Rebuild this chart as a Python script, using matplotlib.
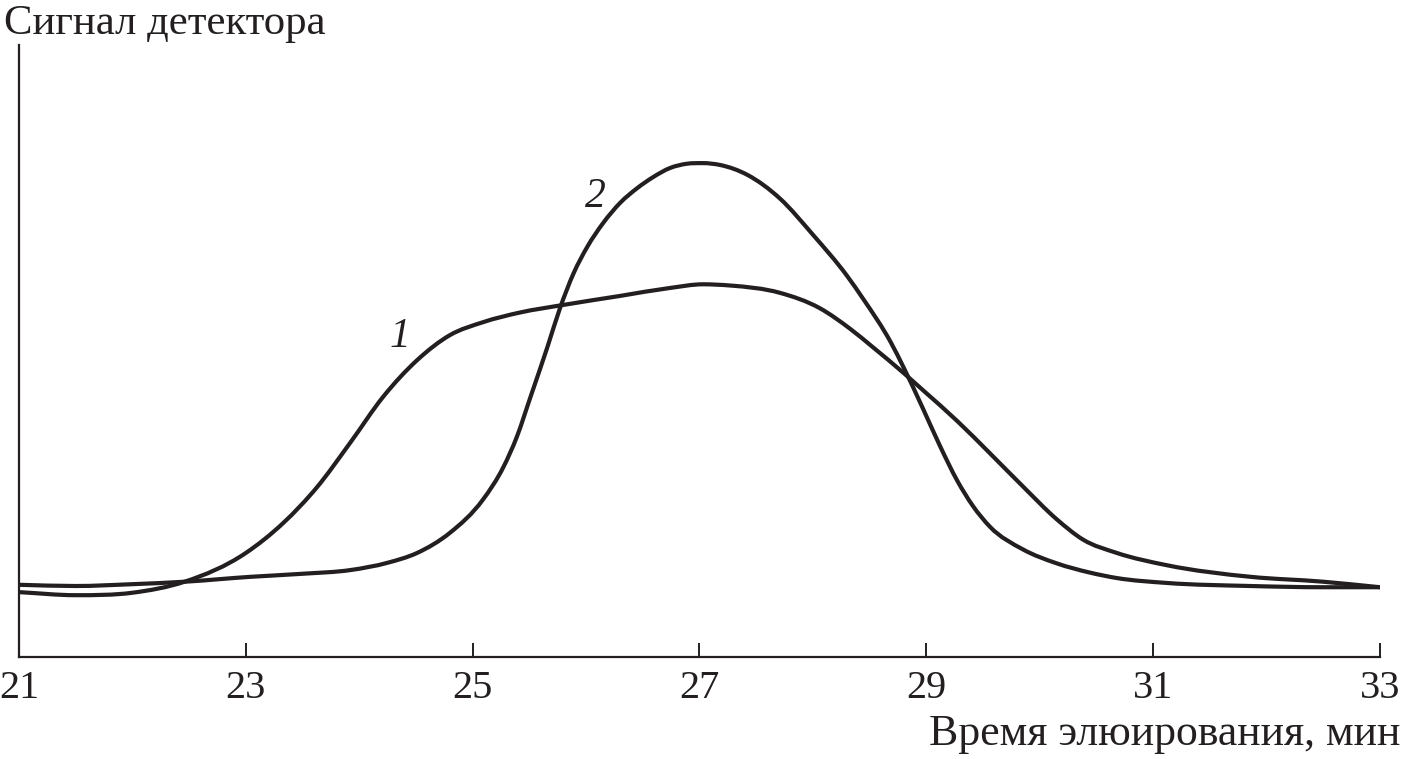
import matplotlib
matplotlib.use("Agg")
import matplotlib.pyplot as plt
from matplotlib.path import Path
from matplotlib.patches import PathPatch

# Curve 1 (broad peak)
t1 = [21.0, 21.5, 22.0, 22.46, 23.0, 23.33, 23.63, 23.92, 24.21, 24.51, 24.8, 25.09,
      25.42, 25.79, 26.30, 26.74, 27.03, 27.27, 27.71, 28.06, 28.33, 28.53, 28.80,
      28.97, 29.27, 29.56, 29.85, 30.15, 30.38, 30.68, 31.12, 31.86, 32.5, 33.0]
s1 = [10.6, 10.1, 10.5, 12.3, 17.0, 21.9, 27.8, 35.0, 42.5, 48.5, 52.6, 54.7,
      56.3, 57.5, 59.0, 60.3, 60.9, 60.7, 59.5, 57.0, 53.6, 50.6, 46.4,
      43.6, 38.6, 33.3, 27.9, 22.5, 19.2, 17.0, 15.0, 13.1, 12.3, 11.4]

# Curve 2 (narrow peak)
t2 = [21.0, 21.5, 22.0, 22.46, 23.04, 23.5, 23.92, 24.25, 24.51, 24.8, 25.09, 25.27,
      25.39, 25.51, 25.66, 25.77, 25.89, 26.01, 26.15, 26.30, 26.45, 26.59, 26.74,
      26.89, 27.03, 27.18, 27.42, 27.71, 28.0, 28.30, 28.44, 28.69, 28.80, 28.97,
      29.12, 29.27, 29.41, 29.56, 29.85, 30.15, 30.44, 30.68, 31.12, 31.86, 32.5, 33.0]
s2 = [11.8, 11.6, 11.9, 12.3, 13.1, 13.6, 14.2, 15.4, 17.0, 20.3, 25.7, 31.0,
      36.0, 42.5, 50.7, 57.0, 62.7, 67.0, 70.9, 74.2, 76.6, 78.4, 79.9,
      80.6, 80.7, 80.4, 78.8, 74.9, 69.0, 62.3, 58.6, 51.3, 47.3, 40.6,
      34.5, 28.9, 24.7, 21.3, 17.6, 15.3, 13.8, 12.9, 12.1, 11.6, 11.4, 11.4]

x_ticks = [21, 23, 25, 27, 29, 31, 33]
y_title = "Сигнал детектора"
x_title = "Время элюирования, мин"
curve_labels = ["1", "2"]
label_pos = [(24.36, 50.7), (26.08, 73.5)]

INK = '#231f20'


def smooth_path(x, y):
    """Cubic Hermite segments (three-point slopes) expressed as Bezier curves."""
    n = len(x)
    d = [(y[i + 1] - y[i]) / (x[i + 1] - x[i]) for i in range(n - 1)]
    m = [0.0] * n
    m[0], m[-1] = d[0], d[-1]
    for i in range(1, n - 1):
        h0 = x[i] - x[i - 1]
        h1 = x[i + 1] - x[i]
        if d[i - 1] * d[i] <= 0:
            m[i] = 0.0
        else:
            m[i] = (h1 * d[i - 1] + h0 * d[i]) / (h0 + h1)
    verts = [(x[0], y[0])]
    codes = [Path.MOVETO]
    for i in range(n - 1):
        h = x[i + 1] - x[i]
        verts += [(x[i] + h / 3, y[i] + m[i] * h / 3),
                  (x[i + 1] - h / 3, y[i + 1] - m[i + 1] * h / 3),
                  (x[i + 1], y[i + 1])]
        codes += [Path.CURVE4] * 3
    return Path(verts, codes)


plt.rcParams['font.family'] = ['Liberation Serif', 'DejaVu Serif']

fig = plt.figure(figsize=(14.01, 7.59), dpi=100)
ax = fig.add_axes([19/1401, 1-657/759, (1380-19)/1401, (657-45)/759])

for tx, sy in [(t1, s1), (t2, s2)]:
    ax.add_patch(PathPatch(smooth_path(tx, sy), facecolor='none', edgecolor=INK,
                           lw=3.0, joinstyle='round', capstyle='butt'))

ax.set_xlim(21, 33)
ax.set_ylim(0, 100)
ax.set_xticks(x_ticks)
ax.set_xticklabels([str(v) for v in x_ticks])
ax.set_yticks([])
for side in ['top', 'right']:
    ax.spines[side].set_visible(False)
for side in ['left', 'bottom']:
    ax.spines[side].set_linewidth(1.6)
    ax.spines[side].set_color(INK)
ax.tick_params(axis='x', direction='in', length=10, width=1.4, color=INK,
               labelsize=29, pad=9, labelcolor=INK)

for lab, (lx, ly) in zip(curve_labels, label_pos):
    ax.text(lx, ly, lab, fontsize=30, style='italic', ha='center', va='baseline', color=INK)

fig.text(4/1401, 1-34/759, y_title, fontsize=30.8, ha='left', va='baseline', color=INK)
fig.text(1400/1401, 1-745/759, x_title, fontsize=31.5, ha='right', va='baseline', color=INK)

fig.savefig("out.png", dpi=100)
